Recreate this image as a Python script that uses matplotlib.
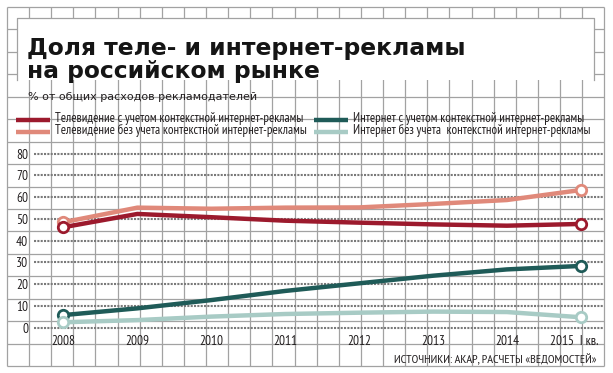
import numpy as np
import matplotlib
matplotlib.use("Agg")
import matplotlib.pyplot as plt
from matplotlib.patches import Rectangle
from matplotlib.transforms import ScaledTranslation

# доля в % от общих расходов рекламодателей
years = ["2008", "2009", "2010", "2011", "2012", "2013", "2014", "2015  I кв."]
tv_with_ctx = [46.2, 52.3, 50.8, 49.2, 48.3, 47.5, 46.9, 47.7]
tv_no_ctx = [48.5, 55.2, 54.7, 55.2, 55.3, 56.9, 58.7, 63.3]
web_with_ctx = [5.8, 8.9, 12.7, 16.9, 20.4, 23.9, 26.8, 28.4]
web_no_ctx = [2.5, 3.5, 5.1, 6.3, 6.9, 7.4, 7.2, 4.8]
yticks = [0, 10, 20, 30, 40, 50, 60, 70, 80]

labels = ["Телевидение с учетом контекстной интернет-рекламы",
          "Телевидение без учета контекстной интернет-рекламы",
          "Интернет с учетом контекстной интернет-рекламы",
          "Интернет без учета  контекстной интернет-рекламы"]
colors = ["#9c1a2d", "#e0897a", "#1f5b58", "#a8cbc5"]

NARROW = dict(family=["PT Sans Narrow", "DejaVu Sans"])
GRID = "#a2a2a2"
TXT = "#231f20"

fig = plt.figure(figsize=(6.13, 3.73), dpi=100)

# фон в пикселях
bg = fig.add_axes([0, 0, 1, 1])
bg.set_xlim(0, 613)
bg.set_ylim(373, 0)
bg.axis("off")

gx = 7 + 22.12 * np.arange(28)
gy = 7 + 22.44 * np.arange(17)
bg.vlines(gx, 7, 366, color=GRID, lw=0.9)
bg.hlines(gy, 7, 604, color=GRID, lw=0.9)
bg.add_patch(Rectangle((17, 18), 577, 62, facecolor="white", edgecolor="none", zorder=2))
bg.plot([17, 17, 594, 594], [80, 18, 18, 80], color=GRID, lw=0.9, zorder=3)

bg.text(27, 55, "Доля теле- и интернет-рекламы", fontsize=16.8, weight="bold",
        color="#151515", va="baseline", zorder=4)
bg.text(27, 78, "на российском рынке", fontsize=16.8, weight="bold",
        color="#151515", va="baseline", zorder=4)
bg.text(28, 97, "% от общих расходов рекламодателей", fontsize=8, color=TXT, va="center")

# легенда
leg_pos = [(16, 50, 55, 119.5), (16, 50, 55, 131.5), (314, 348, 353, 119.5), (314, 348, 353, 131.5)]
for (x0, x1, xt, y), lab, c in zip(leg_pos, labels, colors):
    bg.plot([x0, x1], [y, y], color=c, lw=3.2, solid_capstyle="butt")
    bg.text(xt, y - 1, lab, fontsize=9.3, color=TXT, va="center", **NARROW)

bg.text(597, 359, "ИСТОЧНИКИ: АКАР, РАСЧЕТЫ «ВЕДОМОСТЕЙ»", fontsize=8.8, color=TXT,
        ha="right", va="center", **NARROW)

# график
ax = fig.add_axes([34 / 613, (373 - 332) / 373, 570 / 613, (332 - 143) / 373])
ax.set_xlim(-0.399, 7.314)
ax.set_ylim((327.7 - 332) / 2.175, (327.7 - 143) / 2.175)
ax.patch.set_alpha(0)
for s in ax.spines.values():
    s.set_visible(False)

ax.hlines(yticks, 0, 1, transform=ax.get_yaxis_transform(), colors="#7a7a7a",
          lw=1.5, linestyles=(0, (1.0, 0.6)))

x = np.arange(len(years))
series = [tv_no_ctx, tv_with_ctx, web_with_ctx, web_no_ctx]
cols = [colors[1], colors[0], colors[2], colors[3]]
for z, (vals, c) in enumerate(zip(series, cols)):
    ax.plot(x, vals, color=c, lw=3.2, solid_joinstyle="round", solid_capstyle="round",
            zorder=3 + z)
    ax.plot([x[0], x[-1]], [vals[0], vals[-1]], "o", ms=7.5, mfc="white", mec=c, mew=2,
            clip_on=False, zorder=3 + z)

ax.set_yticks(yticks)
ax.set_yticklabels([str(v) for v in yticks], fontsize=9.6, color=TXT, **NARROW)
ax.set_xticks(x)
ax.set_xticklabels(years, fontsize=9.6, color=TXT, **NARROW)
ax.tick_params(length=0)
ax.tick_params(axis="y", pad=4.3)
ax.tick_params(axis="x", pad=2.3)
last = ax.get_xticklabels()[-1]
last.set_transform(last.get_transform() + ScaledTranslation(-7 / 100, 0, fig.dpi_scale_trans))

fig.savefig("out.png", dpi=100)
